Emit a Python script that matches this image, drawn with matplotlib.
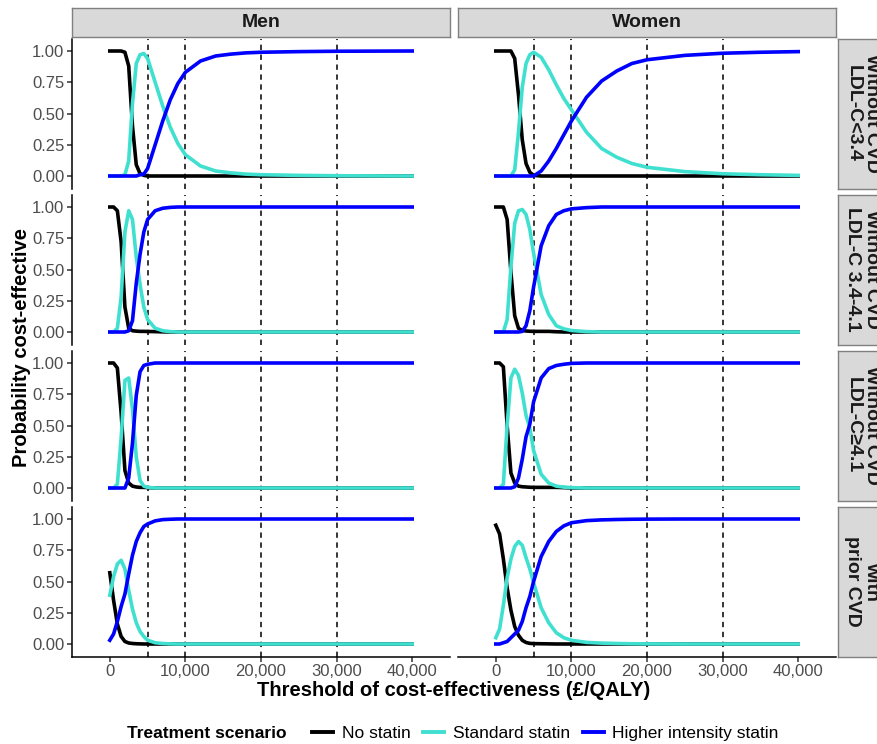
import matplotlib
matplotlib.use("Agg")
import matplotlib.pyplot as plt
from matplotlib.lines import Line2D

plt.rcParams['font.family'] = ['Liberation Sans', 'DejaVu Sans']

# Threshold grid (£/QALY) and probability cost-effective
thresholds = [0, 500, 1000, 1500, 2000, 2500, 3000, 3500, 4000, 4500, 5000, 6000, 7000,
              8000, 9000, 10000, 12000, 14000, 16000, 18000, 20000, 25000, 30000, 35000, 40000]

# Men, without CVD, LDL-C<3.4
men_r1_none = [1, 1, 1, 1, 0.99, 0.88, 0.4, 0.09, 0.02, 0.005, 0, 0, 0, 0, 0, 0, 0, 0, 0, 0, 0, 0, 0, 0, 0]
men_r1_std = [0, 0, 0, 0, 0.01, 0.12, 0.58, 0.9, 0.97, 0.98, 0.94, 0.75, 0.56, 0.39, 0.26, 0.17, 0.08,
              0.04, 0.025, 0.015, 0.01, 0.005, 0.002, 0.001, 0]
men_r1_high = [0, 0, 0, 0, 0, 0, 0, 0, 0.01, 0.015, 0.06, 0.25, 0.44, 0.61, 0.74, 0.83, 0.92, 0.96,
               0.975, 0.985, 0.99, 0.995, 0.998, 0.999, 1]
# Women, without CVD, LDL-C<3.4
wom_r1_none = [1, 1, 1, 1, 1, 0.94, 0.65, 0.29, 0.1, 0.03, 0.005, 0, 0, 0, 0, 0, 0, 0, 0, 0, 0, 0, 0, 0, 0]
wom_r1_std = [0, 0, 0, 0, 0, 0.05, 0.35, 0.71, 0.9, 0.97, 0.99, 0.95, 0.85, 0.73, 0.62, 0.53, 0.35,
              0.22, 0.15, 0.1, 0.07, 0.035, 0.018, 0.01, 0.005]
wom_r1_high = [0, 0, 0, 0, 0, 0, 0, 0, 0, 0, 0, 0.04, 0.12, 0.22, 0.33, 0.44, 0.63, 0.76, 0.84, 0.9,
               0.93, 0.965, 0.982, 0.99, 0.995]

# Men, without CVD, LDL-C 3.4-4.1
men_r2_none = [1, 1, 0.97, 0.72, 0.2, 0.03, 0.01, 0.007, 0.005, 0.005, 0.004, 0.003, 0.001,
               0, 0, 0, 0, 0, 0, 0, 0, 0, 0, 0, 0]
men_r2_std = [0, 0, 0.03, 0.28, 0.8, 0.97, 0.9, 0.6, 0.38, 0.2, 0.1, 0.03, 0.01, 0.003,
              0, 0, 0, 0, 0, 0, 0, 0, 0, 0, 0]
men_r2_high = [0, 0, 0, 0, 0, 0.01, 0.09, 0.39, 0.62, 0.8, 0.9, 0.97, 0.99, 0.997,
               1, 1, 1, 1, 1, 1, 1, 1, 1, 1, 1]
# Women, without CVD, LDL-C 3.4-4.1
wom_r2_none = [1, 1, 1, 0.9, 0.48, 0.13, 0.03, 0.012, 0.008, 0.006, 0.005, 0.005, 0.005, 0.002,
               0, 0, 0, 0, 0, 0, 0, 0, 0, 0, 0]
wom_r2_std = [0, 0, 0, 0.1, 0.52, 0.87, 0.97, 0.98, 0.94, 0.82, 0.63, 0.3, 0.14, 0.05, 0.025, 0.012,
              0.003, 0, 0, 0, 0, 0, 0, 0, 0]
wom_r2_high = [0, 0, 0, 0, 0, 0, 0, 0.005, 0.05, 0.17, 0.36, 0.69, 0.85, 0.94, 0.97, 0.985, 0.995,
               1, 1, 1, 1, 1, 1, 1, 1]

# Men, without CVD, LDL-C>=4.1
men_r3_none = [1, 1, 0.96, 0.6, 0.14, 0.04, 0.015, 0.008, 0.005, 0.005, 0.003,
               0, 0, 0, 0, 0, 0, 0, 0, 0, 0, 0, 0, 0, 0]
men_r3_std = [0, 0, 0.03, 0.4, 0.86, 0.88, 0.63, 0.25, 0.06, 0.015, 0.005,
              0, 0, 0, 0, 0, 0, 0, 0, 0, 0, 0, 0, 0, 0]
men_r3_high = [0, 0, 0, 0, 0, 0.08, 0.36, 0.74, 0.93, 0.98, 0.99,
               1, 1, 1, 1, 1, 1, 1, 1, 1, 1, 1, 1, 1, 1]
# Women, without CVD, LDL-C>=4.1
wom_r3_none = [1, 1, 0.97, 0.5, 0.12, 0.04, 0.015, 0.01, 0.008, 0.006, 0.005, 0.005, 0.005, 0.005,
               0.003, 0, 0, 0, 0, 0, 0, 0, 0, 0, 0]
wom_r3_std = [0, 0, 0.03, 0.5, 0.88, 0.95, 0.9, 0.76, 0.58, 0.48, 0.3, 0.11, 0.04, 0.015, 0.007,
              0.003, 0, 0, 0, 0, 0, 0, 0, 0, 0]
wom_r3_high = [0, 0, 0, 0, 0, 0.01, 0.08, 0.23, 0.41, 0.51, 0.69, 0.88, 0.955, 0.98, 0.99, 0.997,
               1, 1, 1, 1, 1, 1, 1, 1, 1]

# Men, with prior CVD
men_r4_none = [0.57, 0.35, 0.16, 0.06, 0.02, 0.008, 0.004, 0.002, 0.001,
               0, 0, 0, 0, 0, 0, 0, 0, 0, 0, 0, 0, 0, 0, 0, 0]
men_r4_std = [0.39, 0.54, 0.64, 0.67, 0.6, 0.43, 0.28, 0.17, 0.1, 0.06, 0.03, 0.01, 0.004, 0.001,
              0, 0, 0, 0, 0, 0, 0, 0, 0, 0, 0]
men_r4_high = [0.03, 0.08, 0.18, 0.3, 0.4, 0.56, 0.71, 0.82, 0.89, 0.94, 0.96, 0.985, 0.995, 0.998,
               1, 1, 1, 1, 1, 1, 1, 1, 1, 1, 1]
# Women, with prior CVD
wom_r4_none = [0.95, 0.88, 0.68, 0.45, 0.27, 0.14, 0.07, 0.03, 0.012, 0.005, 0.003, 0.002, 0.001,
               0, 0, 0, 0, 0, 0, 0, 0, 0, 0, 0, 0]
wom_r4_std = [0.05, 0.12, 0.31, 0.53, 0.68, 0.78, 0.82, 0.79, 0.69, 0.6, 0.49, 0.29, 0.17, 0.09, 0.05,
              0.03, 0.013, 0.007, 0.004, 0.002, 0.001, 0, 0, 0, 0]
wom_r4_high = [0, 0, 0.01, 0.02, 0.05, 0.08, 0.11, 0.18, 0.29, 0.38, 0.5, 0.7, 0.82, 0.9, 0.945, 0.97,
               0.987, 0.993, 0.996, 0.998, 0.999, 1, 1, 1, 1]

sexes = ["Men", "Women"]
groups = ["Without CVD\nLDL-C<3.4", "Without CVD\nLDL-C 3.4-4.1",
          "Without CVD\nLDL-C\u22654.1", "with\nprior CVD"]
scenarios = ["No statin", "Standard statin", "Higher intensity statin"]
colors = ["black", "#40E0D0", "#0000FF"]
ref_lines = [5000, 10000, 20000, 30000]
x_ticks = [0, 10000, 20000, 30000, 40000]
x_ticklabels = ["0", "10,000", "20,000", "30,000", "40,000"]
y_ticks = [0, 0.25, 0.5, 0.75, 1.0]
y_ticklabels = ["0.00", "0.25", "0.50", "0.75", "1.00"]

panels = [
    [(men_r1_none, men_r1_std, men_r1_high), (wom_r1_none, wom_r1_std, wom_r1_high)],
    [(men_r2_none, men_r2_std, men_r2_high), (wom_r2_none, wom_r2_std, wom_r2_high)],
    [(men_r3_none, men_r3_std, men_r3_high), (wom_r3_none, wom_r3_std, wom_r3_high)],
    [(men_r4_none, men_r4_std, men_r4_high), (wom_r4_none, wom_r4_std, wom_r4_high)],
]

W, H = 878, 744
fig = plt.figure(figsize=(W / 100, H / 100), dpi=100)


def px_axes(left, top, width, height):
    return fig.add_axes([left / W, 1 - (top + height) / H, width / W, height / H])


col_left = [72, 458]
col_width = 378
row_top = [38.5, 194.5, 350.5, 506.5]
row_height = 150
strip_grey = "#D9D9D9"
strip_edge = "#808080"
tick_grey = "#4D4D4D"

for r in range(4):
    for c in range(2):
        ax = px_axes(col_left[c], row_top[r], col_width, row_height)
        for xv in ref_lines:
            ax.axvline(xv, color="black", lw=1.1, ls=(0, (3.5, 3)), zorder=1)
        for series, col in zip(panels[r][c], colors):
            ax.plot(thresholds, series, color=col, lw=2.6, zorder=2)
        ax.set_xlim(-5000, 45000)
        ax.set_ylim(-0.1, 1.1)
        for s in ["top", "right"]:
            ax.spines[s].set_visible(False)
        ax.spines["left"].set_visible(c == 0)
        ax.spines["bottom"].set_visible(r == 3)
        for s in ["left", "bottom"]:
            ax.spines[s].set_linewidth(1.1)
        ax.set_xticks(x_ticks)
        ax.set_yticks(y_ticks)
        ax.tick_params(colors="#333333", labelcolor=tick_grey, labelsize=12, length=3.5, width=1.1, pad=2)
        if r == 3:
            ax.set_xticklabels(x_ticklabels)
        else:
            ax.tick_params(axis="x", bottom=False, labelbottom=False)
        if c == 0:
            ax.set_yticklabels(y_ticklabels)
        else:
            ax.tick_params(axis="y", left=False, labelleft=False)

# top strips
for c in range(2):
    sax = px_axes(col_left[c], 7.5, col_width, 29.5)
    sax.set_facecolor(strip_grey)
    sax.set_xticks([])
    sax.set_yticks([])
    for s in sax.spines.values():
        s.set_edgecolor(strip_edge)
        s.set_linewidth(1.0)
    sax.text(0.5, 0.5, sexes[c], transform=sax.transAxes, ha="center", va="center",
             fontsize=14, fontweight="bold", color="#1A1A1A")

# right strips (text overflows the narrow strip and is cut at its edge, as in the original)
for r in range(4):
    sax = px_axes(838, row_top[r], 40, row_height)
    sax.set_facecolor(strip_grey)
    sax.set_xticks([])
    sax.set_yticks([])
    for s in sax.spines.values():
        s.set_edgecolor(strip_edge)
        s.set_linewidth(1.0)
    sax.text(0.6, 0.5, groups[r], transform=sax.transAxes, rotation=-90, ha="center", va="center",
             multialignment="center", fontsize=14, fontweight="bold", color="#1A1A1A",
             linespacing=1.1, clip_on=True)

fig.text(453.5 / W, 1 - 690 / H, "Threshold of cost-effectiveness (\u00a3/QALY)", ha="center",
         va="center", fontsize=14.5, fontweight="bold")
fig.text(22 / W, 1 - 347.5 / H, "Probability cost-effective", rotation=90, ha="center", va="center",
         fontsize=14.5, fontweight="bold")

# legend
fig.text(127 / W, 1 - 733 / H, "Treatment scenario", ha="left", va="center", fontsize=12.5,
         fontweight="bold")
handles = [Line2D([0], [0], color=col, lw=2.8) for col in colors]
fig.legend(handles, scenarios, loc="center left", bbox_to_anchor=(312 / W, 1 - 733 / H), ncol=3,
           frameon=False, fontsize=12.5, handlelength=1.2, handletextpad=0.5, columnspacing=0.75,
           borderpad=0, borderaxespad=0)

fig.savefig("out.png", dpi=100)
